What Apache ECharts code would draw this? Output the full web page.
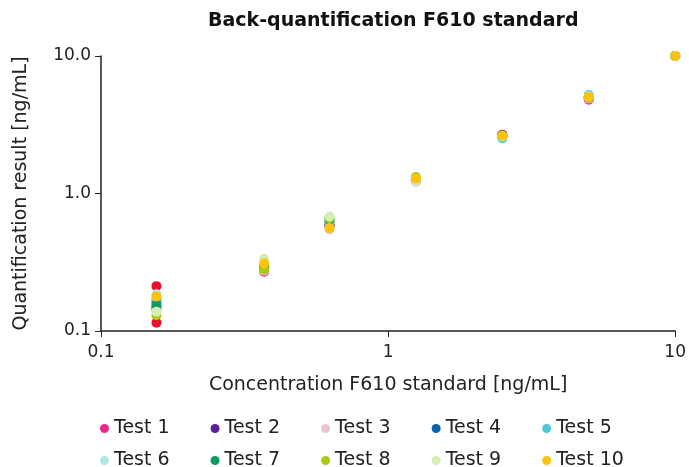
<!DOCTYPE html>
<html>
<head>
<meta charset="utf-8">
<script src="https://cdn.jsdelivr.net/npm/echarts@6/dist/echarts.min.js"></script>
<style>
  html, body { margin: 0; padding: 0; background: #fff; }
  #chart { width: 689px; height: 467px; }
</style>
</head>
<body>
<div id="chart"></div>
<script>
// concentrations of the F610 standard (ng/mL)
var concentrations = [0.156, 0.37, 0.625, 1.25, 2.5, 5, 10];

var testNames = ['Test 1', 'Test 2', 'Test 3', 'Test 4', 'Test 5',
                 'Test 6', 'Test 7', 'Test 8', 'Test 9', 'Test 10'];
var testColors = ['#e7298a', '#5a1f9c', '#e8c4d0', '#0b62ae', '#4fc8d6',
                  '#aee9e1', '#0f9a63', '#a9cb14', '#d5eeb1', '#fdc20c'];

// quantification results per test, one per concentration
var test1 = [0.150, 0.270, 0.580, 1.24, 2.66, 4.80, 10.0];
var test2 = [0.145, 0.290, 0.590, 1.25, 2.67, 4.95, 10.0];
var test3 = [0.140, 0.275, 0.550, 1.22, 2.60, 4.90, 10.0];
var test4 = [0.163, 0.295, 0.600, 1.25, 2.58, 5.00, 10.0];
var test5 = [0.170, 0.300, 0.670, 1.25, 2.52, 5.20, 10.0];
var test6 = [0.185, 0.300, 0.620, 1.26, 2.60, 5.10, 10.0];
var test7 = [0.155, 0.290, 0.640, 1.26, 2.60, 5.00, 10.0];
var test8 = [0.130, 0.280, 0.660, 1.32, 2.62, 5.00, 10.0];
var test9 = [0.138, 0.335, 0.680, 1.24, 2.60, 5.05, 10.0];
var test10 = [0.178, 0.310, 0.560, 1.28, 2.64, 5.03, 10.0];
var testValues = [test1, test2, test3, test4, test5, test6, test7, test8, test9, test10];

// the two red points at the lowest concentration (no legend entry)
var redPoints = [0.212, 0.115];
var redColor = '#e8102d';

var yTickLabels = { 0.1: '0.1', 1: '1.0', 10: '10.0' };
var xTickLabels = { 0.1: '0.1', 1: '1', 10: '10' };

var font = 'DejaVu Sans';

var series = testNames.map(function (name, i) {
    return {
        name: name,
        type: 'scatter',
        symbolSize: 10,
        itemStyle: { color: testColors[i], opacity: 1 },
        data: concentrations.map(function (c, j) { return [c, testValues[i][j]]; }),
        z: 2
    };
});
series.unshift({
    name: 'range',
    type: 'scatter',
    symbolSize: 10,
    itemStyle: { color: redColor, opacity: 1 },
    data: redPoints.map(function (v) { return [concentrations[0], v]; }),
    z: 2
});

var chart = echarts.init(document.getElementById('chart'));
var legendBase = {
    orient: 'horizontal',
    icon: 'circle',
    itemWidth: 9,
    itemHeight: 9,
    itemGap: 41,
    textStyle: { fontFamily: font, fontSize: 19, color: '#222' }
};
chart.setOption({
    animation: false,
    backgroundColor: '#fff',
    title: {
        text: 'Back-quantification F610 standard',
        left: 203,
        top: 7,
        textStyle: { fontFamily: font, fontSize: 19, fontWeight: 'bold', color: '#111' }
    },
    grid: { left: 101, right: 13, top: 56, bottom: 136 },
    legend: [
        Object.assign({ data: testNames.slice(0, 5), left: 95, top: 414 }, legendBase),
        Object.assign({ data: testNames.slice(5), left: 95, top: 446 }, legendBase)
    ],
    xAxis: {
        type: 'log',
        logBase: 10,
        min: 0.1,
        max: 10,
        name: 'Concentration F610 standard [ng/mL]',
        nameLocation: 'middle',
        nameGap: 45,
        nameTextStyle: { fontFamily: font, fontSize: 19, color: '#222' },
        axisLine: { lineStyle: { color: '#222', width: 1.5 } },
        axisTick: { show: true, length: 6, lineStyle: { color: '#222' } },
        minorTick: { show: false },
        splitLine: { show: false },
        axisLabel: {
            fontFamily: font, fontSize: 17, color: '#222', margin: 13,
            formatter: function (v) { return xTickLabels[v] || ''; }
        }
    },
    yAxis: {
        type: 'log',
        logBase: 10,
        min: 0.1,
        max: 10,
        name: 'Quantification result [ng/mL]',
        nameLocation: 'middle',
        nameGap: 70,
        nameTextStyle: { fontFamily: font, fontSize: 19, color: '#222' },
        axisLine: { show: true, lineStyle: { color: '#222', width: 1.5 } },
        axisTick: { show: true, length: 6, lineStyle: { color: '#222' } },
        splitLine: { show: false },
        axisLabel: {
            fontFamily: font, fontSize: 17, color: '#222', margin: 10,
            formatter: function (v) { return yTickLabels[v] || ''; }
        }
    },
    series: series
});
</script>
</body>
</html>
